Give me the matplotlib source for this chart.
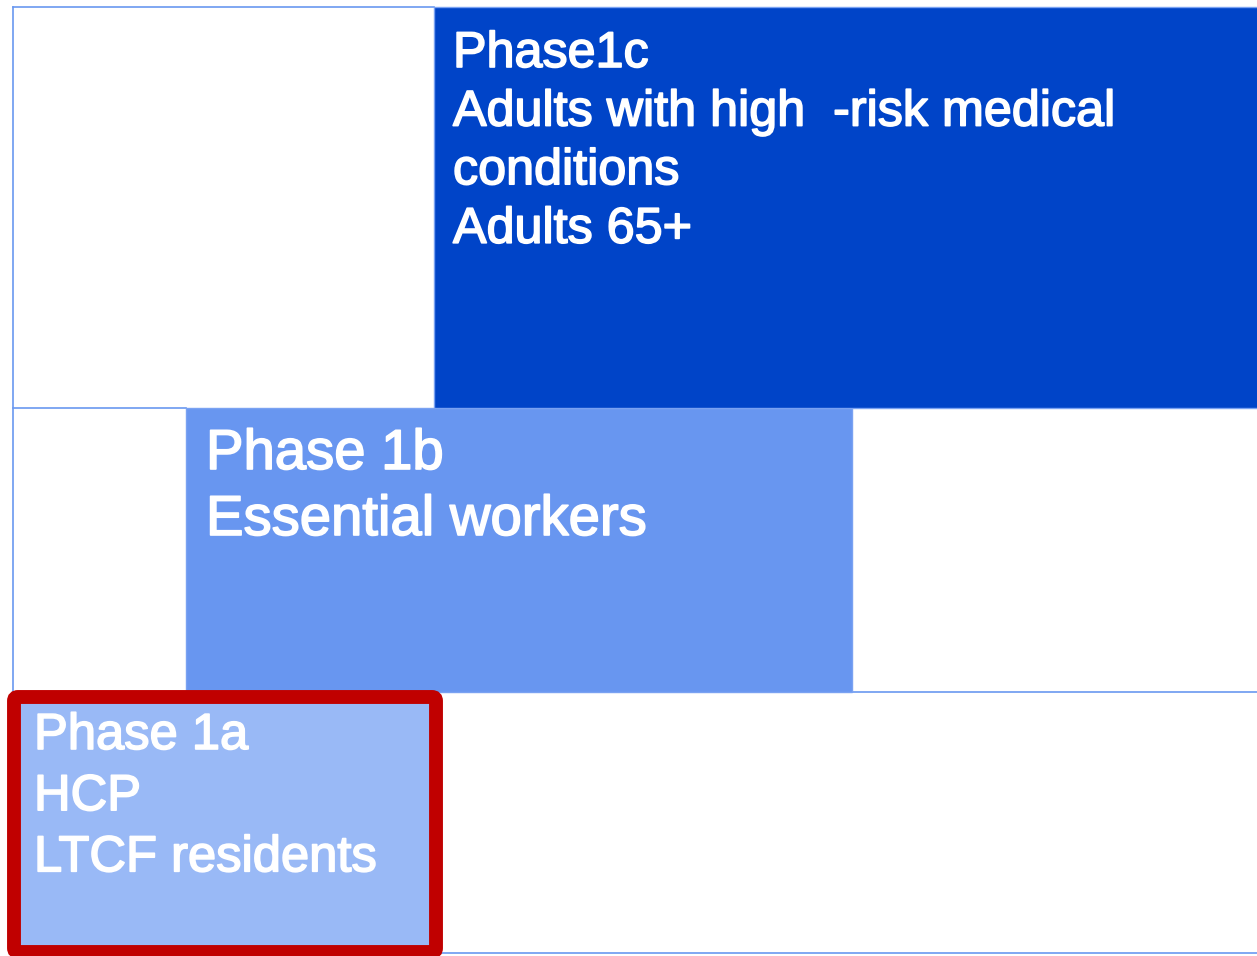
import matplotlib.pyplot as plt
import matplotlib.patheffects as pe
from matplotlib.patches import FancyBboxPatch

plt.rcParams["font.family"] = ["Liberation Sans", "DejaVu Sans"]

# Fases (de baixo para cima), inicio e fim no eixo horizontal
fases = ["Phase 1a", "Phase 1b", "Phase1c"]
inicio = [14, 186, 434]
fim = [436, 852, 1260]
textos = [
    "Phase 1a\nHCP\nLTCF residents",
    "Phase 1b\nEssential workers",
    "Phase1c\nAdults with high  -risk medical\nconditions\nAdults 65+",
]
# limites das linhas (topo, base)
linha_topo = [697, 408, 7]
linha_base = [952, 692, 408]

cores = ["#99b9f6", "#6896f0", "#0044c8"]
cor_grade = "#6a98f0"

fig = plt.figure(figsize=(12.57, 9.56), dpi=100)
ax = fig.add_axes([0, 0, 1, 1])
ax.set_xlim(0, 1257)
ax.set_ylim(956, 0)
ax.axis("off")

# linhas de grade
ax.plot([13, 13], [7, 692], color=cor_grade, lw=1.2)
ax.plot([13, 434], [7, 7], color=cor_grade, lw=1.2)
ax.plot([13, 186], [408, 408], color=cor_grade, lw=1.2)
ax.plot([852, 1257], [692, 692], color=cor_grade, lw=1.2)
ax.plot([440, 1257], [953, 953], color=cor_grade, lw=1.2)

# fases 1b e 1c
for i in [1, 2]:
    ax.barh(
        (linha_topo[i] + linha_base[i]) / 2,
        fim[i] - inicio[i],
        height=linha_base[i] - linha_topo[i],
        left=inicio[i],
        color=cores[i],
        edgecolor="#7aa2f2",
        linewidth=1,
        zorder=2,
    )

# fase 1a com destaque em vermelho
caixa = FancyBboxPatch(
    (inicio[0], linha_topo[0]),
    fim[0] - inicio[0],
    linha_base[0] - linha_topo[0],
    boxstyle="round,pad=0,rounding_size=4",
    facecolor=cores[0],
    edgecolor="#c00000",
    linewidth=10,
    zorder=3,
)
ax.add_patch(caixa)

# textos
efeito = [pe.withStroke(linewidth=1.2, foreground="white")]
ax.text(453, 31, textos[2], color="white", fontsize=36.2, va="top", ha="left",
        linespacing=1.35, zorder=4, path_effects=efeito)
ax.text(206, 429, textos[1], color="white", fontsize=40.5, va="top", ha="left",
        linespacing=1.35, zorder=4, path_effects=efeito)
ax.text(34, 711, textos[0], color="white", fontsize=36.5, va="top", ha="left",
        linespacing=1.32, zorder=4, path_effects=efeito)

fig.savefig("out.png", dpi=100)
plt.close(fig)
